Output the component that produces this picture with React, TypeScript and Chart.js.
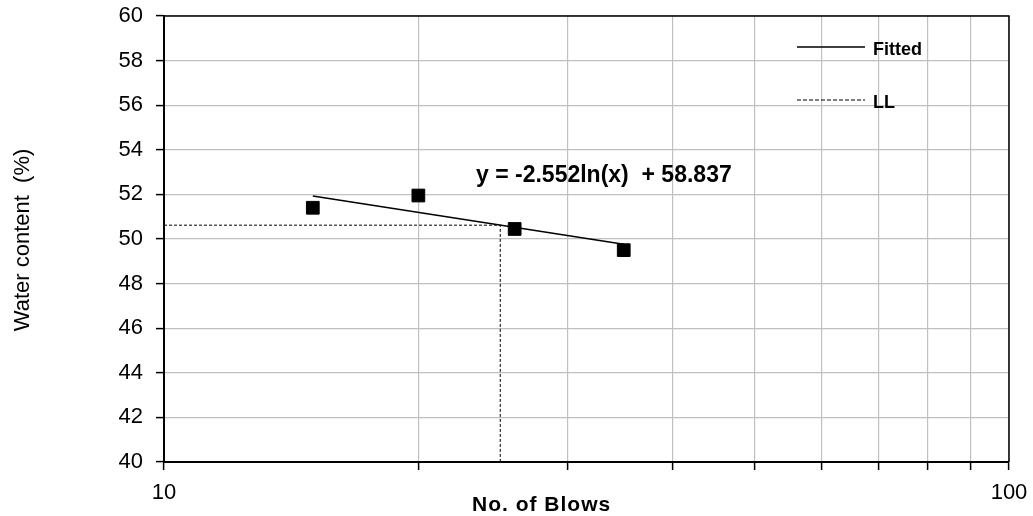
import React, { useEffect, useRef } from 'react';
import { Chart, registerables } from 'chart.js';

Chart.register(...registerables);

// ---- data ----
const blows = [15, 20, 26, 35];
const waterContent = [51.4, 51.95, 50.45, 49.5];
const fittedBlows = [15, 35];
const fittedWater = [51.93, 49.76];
const llBlows = [10, 25, 25];
const llWater = [50.62, 50.62, 40];
const xGridValues = [10, 20, 30, 40, 50, 60, 70, 80, 90, 100];
const xLabelled = [10, 100];
const yMin = 40;
const yMax = 60;
const yStep = 2;
const equationText = 'y = -2.552ln(x)  + 58.837';
const xTitle = 'No. of Blows';
const yTitle = 'Water content  (%)';
const legendLabels = ['Fitted', 'LL'];

const FONT = '"Liberation Sans", Arial, sans-serif';

const textPlugin = {
  id: 'textPlugin',
  beforeDatasetsDraw(chart: any) {
    const { ctx, chartArea } = chart;
    ctx.save();
    ctx.strokeStyle = '#000';
    ctx.lineWidth = 1.5;
    ctx.beginPath();
    ctx.moveTo(chartArea.left, chartArea.top);
    ctx.lineTo(chartArea.right, chartArea.top);
    ctx.lineTo(chartArea.right, chartArea.bottom);
    ctx.stroke();
    ctx.restore();
  },
  afterDraw(chart: any) {
    const { ctx } = chart;
    ctx.save();
    ctx.fillStyle = '#000';
    // equation
    ctx.font = `bold 23px ${FONT}`;
    ctx.textAlign = 'left';
    ctx.textBaseline = 'alphabetic';
    ctx.fillText(equationText, 476, 182);
    // x title
    ctx.save();
    ctx.font = `bold 21px ${FONT}`;
    (ctx as any).letterSpacing = '1px';
    ctx.textAlign = 'left';
    ctx.fillText(xTitle, 472, 511);
    ctx.restore();
    // y title
    ctx.save();
    ctx.translate(23, 240);
    ctx.rotate(-Math.PI / 2);
    ctx.font = `22px ${FONT}`;
    ctx.textAlign = 'center';
    ctx.textBaseline = 'middle';
    ctx.fillText(yTitle, 0, 0);
    ctx.restore();
    // legend
    const items = [
      { y: 47, dash: [] as number[], width: 1.5, label: legendLabels[0] },
      { y: 100, dash: [4, 2], width: 1, label: legendLabels[1] },
    ];
    items.forEach((it) => {
      ctx.save();
      ctx.strokeStyle = '#000';
      ctx.lineWidth = it.width;
      ctx.setLineDash(it.dash);
      ctx.beginPath();
      ctx.moveTo(797, it.y);
      ctx.lineTo(865, it.y);
      ctx.stroke();
      ctx.restore();
      ctx.font = `bold 18px ${FONT}`;
      ctx.textAlign = 'left';
      ctx.textBaseline = 'alphabetic';
      ctx.fillText(it.label, 873, it.y + 8);
    });
    ctx.restore();
  },
};

export default function App() {
  const ref = useRef<HTMLCanvasElement>(null);
  useEffect(() => {
    if (!ref.current) return;
    const chart = new Chart(ref.current, {
      type: 'scatter',
      data: {
        datasets: [
          {
            label: 'Data',
            data: blows.map((x, i) => ({ x, y: waterContent[i] })),
            pointStyle: 'rect',
            pointRadius: 9,
            pointBackgroundColor: '#000',
            pointBorderColor: '#000',
            pointBorderWidth: 1,
            showLine: false,
          },
          {
            label: legendLabels[0],
            data: fittedBlows.map((x, i) => ({ x, y: fittedWater[i] })),
            showLine: true,
            borderColor: '#000',
            borderWidth: 1.5,
            pointRadius: 0,
          },
          {
            label: legendLabels[1],
            data: llBlows.map((x, i) => ({ x, y: llWater[i] })),
            showLine: true,
            borderColor: '#000',
            borderWidth: 1,
            borderDash: [3, 2],
            pointRadius: 0,
          },
        ],
      },
      options: {
        responsive: false,
        animation: false,
        devicePixelRatio: 1,
        layout: { padding: { left: 0, right: 24, top: 16, bottom: 0 } },
        plugins: { legend: { display: false }, tooltip: { enabled: false } },
        scales: {
          x: {
            type: 'logarithmic',
            min: 10,
            max: 100,
            border: { color: '#000', width: 2 },
            grid: {
              color: '#c0c0c0',
              lineWidth: 1.2,
              drawTicks: true,
              tickLength: 8,
              tickColor: '#000',
              tickWidth: 1.5,
            },
            afterBuildTicks: (s: any) => {
              s.ticks = xGridValues.map((v) => ({ value: v, major: xLabelled.includes(v) }));
            },
            ticks: {
              autoSkip: false,
              maxRotation: 0,
              padding: 10,
              color: '#000',
              font: { family: FONT, size: 22 },
              callback: (v: any) => (xLabelled.includes(Number(v)) ? String(v) : ''),
            },
            afterFit: (s: any) => {
              s.height = 54;
              s.paddingRight = 0;
              s.paddingLeft = 0;
            },
          },
          y: {
            type: 'linear',
            min: yMin,
            max: yMax,
            border: { color: '#000', width: 2 },
            grid: {
              color: '#c0c0c0',
              lineWidth: 1.2,
              drawTicks: true,
              tickLength: 8,
              tickColor: '#000',
              tickWidth: 1.5,
            },
            ticks: {
              stepSize: yStep,
              padding: 13,
              color: '#000',
              font: { family: FONT, size: 22 },
            },
            afterFit: (s: any) => {
              s.width = 164;
              s.paddingTop = 0;
              s.paddingBottom = 0;
            },
          },
        },
      },
      plugins: [textPlugin],
    });
    return () => chart.destroy();
  }, []);
  return (
    <div style={{ position: 'fixed', left: 0, top: 0, width: 1033, height: 516, background: '#fff' }}>
      <canvas ref={ref} width={1033} height={516} />
    </div>
  );
}
